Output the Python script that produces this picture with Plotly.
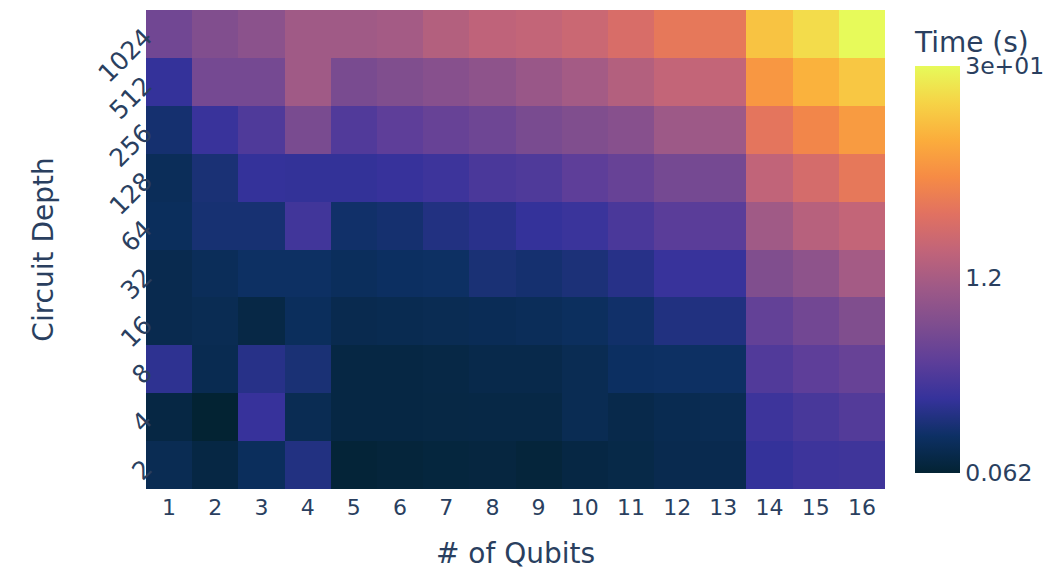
import numpy as np
import plotly.graph_objects as go

# Number of qubits (columns) and circuit depths (rows, bottom to top)
qubits = list(range(1, 17))
depths = ["2", "4", "8", "16", "32", "64", "128", "256", "512", "1024"]

# Simulation time in seconds, one list per circuit depth
time_d2 = [0.090, 0.075, 0.099, 0.147, 0.066, 0.068, 0.070, 0.072, 0.068, 0.075, 0.079, 0.085, 0.085, 0.189, 0.214, 0.220]
time_d4 = [0.075, 0.062, 0.195, 0.090, 0.075, 0.075, 0.076, 0.077, 0.077, 0.090, 0.082, 0.087, 0.090, 0.214, 0.249, 0.291]
time_d8 = [0.172, 0.087, 0.157, 0.130, 0.075, 0.075, 0.077, 0.082, 0.082, 0.090, 0.105, 0.108, 0.108, 0.282, 0.339, 0.396]
time_d16 = [0.085, 0.090, 0.077, 0.099, 0.085, 0.087, 0.090, 0.093, 0.096, 0.102, 0.115, 0.145, 0.145, 0.372, 0.477, 0.611]
time_d32 = [0.085, 0.096, 0.108, 0.108, 0.099, 0.105, 0.108, 0.130, 0.122, 0.134, 0.157, 0.198, 0.198, 0.611, 0.782, 1.133]
time_d64 = [0.099, 0.126, 0.126, 0.227, 0.115, 0.122, 0.147, 0.162, 0.189, 0.205, 0.257, 0.319, 0.319, 1.065, 1.544, 1.859]
time_d128 = [0.096, 0.130, 0.189, 0.185, 0.185, 0.195, 0.214, 0.257, 0.273, 0.339, 0.396, 0.507, 0.507, 1.802, 2.531, 3.668]
time_d256 = [0.122, 0.201, 0.273, 0.540, 0.282, 0.339, 0.396, 0.448, 0.540, 0.611, 0.691, 1.02, 1.02, 3.45, 5.0, 7.24]
time_d512 = [0.189, 0.507, 0.507, 1.065, 0.540, 0.611, 0.691, 0.782, 0.942, 1.133, 1.451, 1.859, 1.859, 6.81, 10.5, 14.3]
time_d1024 = [0.471, 0.622, 0.735, 1.065, 1.065, 1.133, 1.451, 1.747, 1.859, 2.103, 2.693, 3.668, 3.668, 13.44, 19.48, 30.0]

# Colorbar ticks (seconds) and their labels
cbar_ticks = [0.062, 1.2, 30.0]
cbar_labels = ["0.062", "1.2", "3e+01"]

times = np.array([time_d2, time_d4, time_d8, time_d16, time_d32,
                  time_d64, time_d128, time_d256, time_d512, time_d1024])
z = np.log10(times)

font_family = "DejaVu Sans"
txt_color = "#2a3f5f"

fig = go.Figure(
    go.Heatmap(
        x=qubits,
        y=depths,
        z=z,
        colorscale="Thermal",
        zmin=float(np.log10(cbar_ticks[0])),
        zmax=float(np.log10(cbar_ticks[-1])),
        customdata=times,
        hovertemplate="Qubits: %{x}<br>Depth: %{y}<br>Time: %{customdata:.3g} s<extra></extra>",
        colorbar=dict(
            title=dict(text="Time (s)", side="top", font=dict(size=28, family=font_family, color=txt_color)),
            tickvals=list(np.log10(cbar_ticks)),
            ticktext=cbar_labels,
            tickfont=dict(size=23.5, family=font_family, color=txt_color),
            thickness=45,
            outlinewidth=0,
            len=0.971,
            y=0.0125,
            yanchor="bottom",
            x=1.027,
            xanchor="left",
            ticks="",
        ),
    )
)

fig.update_layout(
    width=1062,
    height=573,
    margin=dict(l=146, r=177, t=10, b=84, autoexpand=False),
    paper_bgcolor="white",
    plot_bgcolor="white",
    font=dict(family=font_family, size=22, color=txt_color),
    xaxis=dict(
        title=dict(text="# of Qubits", font=dict(size=28), standoff=24),
        tickmode="array",
        tickvals=qubits,
        ticktext=[str(q) for q in qubits],
        tickfont=dict(size=22),
        ticklabelstandoff=3,
        showgrid=False,
        zeroline=False,
        showline=False,
        ticks="",
    ),
    yaxis=dict(
        title=dict(text="Circuit Depth", font=dict(size=28), standoff=30),
        type="category",
        tickangle=-45,
        tickfont=dict(size=25),
        showgrid=False,
        zeroline=False,
        showline=False,
        ticks="",
    ),
)

fig.write_html("out.html")
